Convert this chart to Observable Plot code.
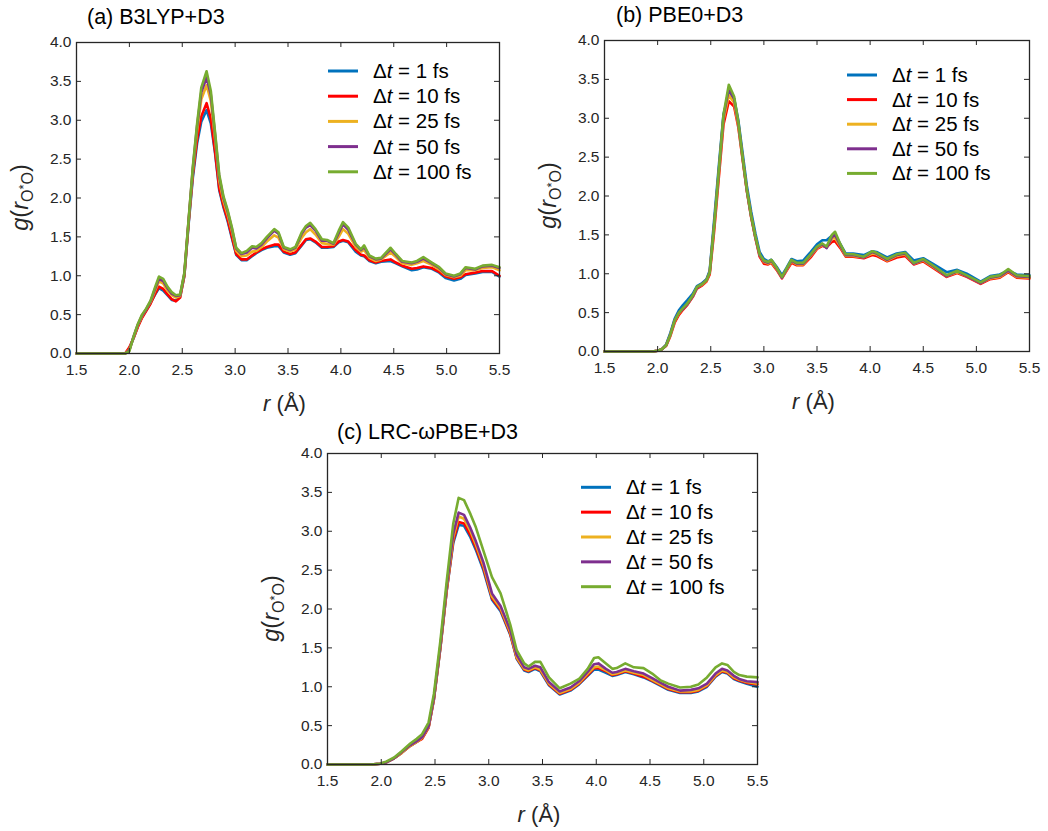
<!DOCTYPE html>
<html>
<head>
<meta charset="utf-8">
<script src="https://cdn.jsdelivr.net/npm/d3@7"></script>
<script src="https://cdn.jsdelivr.net/npm/@observablehq/plot@0.6"></script>
<style>
  html, body { margin: 0; padding: 0; background: #fff; }
  #fig { position: relative; width: 1048px; height: 831px; background: #fff; overflow: hidden; }
  .panel { position: absolute; }
</style>
</head>
<body>
<div id="fig"></div>
<script>
// ---------- shared labels / ticks ----------
const xTicks = [1.5, 2.0, 2.5, 3.0, 3.5, 4.0, 4.5, 5.0, 5.5];
const yTicks = [0, 0.5, 1.0, 1.5, 2.0, 2.5, 3.0, 3.5, 4.0];
const seriesLabels = ["1 fs", "10 fs", "25 fs", "50 fs", "100 fs"];
const seriesColors = ["#0072BD", "#FF0000", "#EDB120", "#7E2F8E", "#77AC30"];
const panelTitles = ["(a) B3LYP+D3", "(b) PBE0+D3", "(c) LRC-\u03C9PBE+D3"];

// ---------- panel (a) B3LYP+D3 ----------
const rA = [1.5, 1.96, 2.0, 2.04, 2.08, 2.12, 2.16, 2.2, 2.24, 2.28,
  2.32, 2.36, 2.4, 2.44, 2.48, 2.52, 2.56, 2.6, 2.64, 2.68,
  2.73, 2.77, 2.81, 2.85, 2.89, 2.93, 2.97, 3.01, 3.06, 3.11,
  3.16, 3.2, 3.25, 3.3, 3.37, 3.41, 3.46, 3.52, 3.57, 3.63,
  3.67, 3.71, 3.76, 3.82, 3.87, 3.93, 3.98, 4.02, 4.07, 4.14,
  4.19, 4.22, 4.27, 4.33, 4.38, 4.47, 4.52, 4.58, 4.67, 4.72,
  4.78, 4.86, 4.93, 4.99, 5.07, 5.13, 5.18, 5.27, 5.34, 5.43,
  5.5];
const gA_1 = [0, 0, 0.06, 0.20, 0.35, 0.47, 0.56, 0.65, 0.75, 0.84,
  0.81, 0.75, 0.69, 0.68, 0.73, 1.00, 1.66, 2.26, 2.70, 2.98,
  3.13, 2.96, 2.58, 2.10, 1.88, 1.70, 1.48, 1.27, 1.20, 1.20,
  1.25, 1.29, 1.33, 1.36, 1.38, 1.38, 1.30, 1.27, 1.29, 1.39,
  1.46, 1.47, 1.43, 1.36, 1.36, 1.37, 1.43, 1.45, 1.43, 1.31,
  1.26, 1.25, 1.19, 1.16, 1.18, 1.19, 1.16, 1.12, 1.07, 1.08,
  1.11, 1.09, 1.04, 0.97, 0.94, 0.96, 1.01, 1.03, 1.05, 1.05,
  0.99];
const gA_10 = [0, 0, 0.08, 0.20, 0.34, 0.46, 0.55, 0.64, 0.76, 0.86,
  0.83, 0.76, 0.70, 0.67, 0.72, 1.00, 1.68, 2.30, 2.75, 3.05,
  3.22, 3.02, 2.60, 2.12, 1.90, 1.72, 1.50, 1.28, 1.21, 1.21,
  1.26, 1.30, 1.34, 1.37, 1.40, 1.40, 1.31, 1.28, 1.30, 1.40,
  1.47, 1.48, 1.44, 1.37, 1.37, 1.38, 1.44, 1.46, 1.44, 1.33,
  1.27, 1.26, 1.20, 1.17, 1.19, 1.21, 1.17, 1.13, 1.09, 1.10,
  1.12, 1.10, 1.05, 0.99, 0.96, 0.98, 1.02, 1.04, 1.06, 1.06,
  1.00];
const gA_25 = [0, 0, 0.05, 0.21, 0.36, 0.48, 0.57, 0.66, 0.80, 0.93,
  0.90, 0.81, 0.75, 0.72, 0.74, 1.02, 1.70, 2.35, 2.86, 3.27,
  3.45, 3.25, 2.76, 2.22, 1.96, 1.78, 1.57, 1.32, 1.25, 1.26,
  1.31, 1.32, 1.37, 1.44, 1.52, 1.49, 1.34, 1.31, 1.34, 1.49,
  1.56, 1.60, 1.53, 1.42, 1.41, 1.40, 1.50, 1.60, 1.54, 1.37,
  1.31, 1.33, 1.23, 1.19, 1.21, 1.30, 1.24, 1.16, 1.14, 1.16,
  1.19, 1.14, 1.08, 1.01, 0.98, 1.00, 1.07, 1.07, 1.10, 1.11,
  1.07];
const gA_50 = [0, 0, 0.04, 0.22, 0.37, 0.49, 0.57, 0.67, 0.82, 0.96,
  0.93, 0.84, 0.77, 0.74, 0.75, 1.03, 1.71, 2.38, 2.92, 3.36,
  3.55, 3.33, 2.82, 2.27, 2.00, 1.82, 1.60, 1.35, 1.28, 1.30,
  1.36, 1.35, 1.40, 1.48, 1.58, 1.54, 1.36, 1.33, 1.36, 1.54,
  1.62, 1.65, 1.58, 1.45, 1.45, 1.41, 1.55, 1.66, 1.59, 1.40,
  1.33, 1.37, 1.25, 1.21, 1.22, 1.34, 1.27, 1.18, 1.16, 1.18,
  1.22, 1.16, 1.10, 1.02, 0.99, 1.02, 1.10, 1.08, 1.12, 1.13,
  1.10];
const gA_100 = [0, 0, 0.03, 0.22, 0.38, 0.50, 0.58, 0.68, 0.84, 0.99,
  0.96, 0.86, 0.79, 0.75, 0.76, 1.04, 1.72, 2.40, 2.95, 3.42,
  3.63, 3.38, 2.85, 2.30, 2.02, 1.84, 1.62, 1.36, 1.29, 1.32,
  1.38, 1.37, 1.42, 1.50, 1.60, 1.56, 1.37, 1.34, 1.37, 1.56,
  1.64, 1.68, 1.60, 1.47, 1.46, 1.42, 1.58, 1.69, 1.62, 1.41,
  1.34, 1.39, 1.26, 1.22, 1.23, 1.36, 1.28, 1.19, 1.17, 1.19,
  1.24, 1.17, 1.11, 1.03, 1.00, 1.03, 1.11, 1.09, 1.13, 1.14,
  1.11];

// ---------- panel (b) PBE0+D3 ----------
const rB = [1.5, 1.95, 2.0, 2.04, 2.08, 2.12, 2.16, 2.2, 2.24, 2.28,
  2.33, 2.37, 2.42, 2.46, 2.49, 2.53, 2.58, 2.62, 2.67, 2.72,
  2.76, 2.8, 2.84, 2.88, 2.92, 2.96, 3.0, 3.04, 3.07, 3.12,
  3.17, 3.21, 3.26, 3.31, 3.37, 3.44, 3.5, 3.55, 3.59, 3.64,
  3.67, 3.72, 3.77, 3.84, 3.94, 4.02, 4.06, 4.16, 4.25, 4.33,
  4.41, 4.5, 4.6, 4.72, 4.82, 4.91, 5.04, 5.13, 5.22, 5.3,
  5.38, 5.5];
const gB_1 = [0, 0, 0.01, 0.03, 0.09, 0.24, 0.42, 0.53, 0.60, 0.66,
  0.74, 0.84, 0.88, 0.93, 1.04, 1.66, 2.45, 3.05, 3.32, 3.25,
  2.97, 2.55, 2.13, 1.80, 1.52, 1.28, 1.19, 1.16, 1.18, 1.09,
  0.98, 1.07, 1.19, 1.16, 1.17, 1.28, 1.38, 1.43, 1.43, 1.49,
  1.50, 1.38, 1.26, 1.26, 1.24, 1.29, 1.28, 1.21, 1.26, 1.28,
  1.17, 1.20, 1.12, 1.02, 1.05, 1.00, 0.90, 0.97, 0.99, 1.04,
  0.99, 0.98];
const gB_10 = [0, 0, 0.01, 0.03, 0.07, 0.20, 0.37, 0.47, 0.54, 0.60,
  0.70, 0.81, 0.85, 0.90, 0.99, 1.52, 2.30, 2.92, 3.22, 3.15,
  2.88, 2.47, 2.06, 1.73, 1.46, 1.22, 1.13, 1.12, 1.14, 1.05,
  0.94, 1.03, 1.14, 1.11, 1.11, 1.21, 1.32, 1.36, 1.34, 1.41,
  1.42, 1.33, 1.22, 1.22, 1.20, 1.24, 1.23, 1.16, 1.21, 1.23,
  1.12, 1.16, 1.07, 0.96, 1.01, 0.96, 0.87, 0.93, 0.95, 1.02,
  0.95, 0.94];
const gB_25 = [0, 0, 0.01, 0.03, 0.08, 0.21, 0.39, 0.49, 0.55, 0.61,
  0.71, 0.82, 0.86, 0.91, 1.01, 1.57, 2.35, 2.98, 3.30, 3.20,
  2.90, 2.48, 2.07, 1.74, 1.47, 1.24, 1.15, 1.13, 1.15, 1.06,
  0.95, 1.04, 1.16, 1.12, 1.12, 1.23, 1.33, 1.37, 1.34, 1.45,
  1.46, 1.35, 1.23, 1.23, 1.21, 1.26, 1.25, 1.17, 1.23, 1.25,
  1.13, 1.17, 1.08, 0.97, 1.02, 0.97, 0.88, 0.94, 0.96, 1.03,
  0.96, 0.95];
const gB_50 = [0, 0, 0.01, 0.03, 0.08, 0.22, 0.40, 0.50, 0.55, 0.61,
  0.71, 0.82, 0.87, 0.92, 1.02, 1.60, 2.38, 3.02, 3.38, 3.25,
  2.93, 2.49, 2.07, 1.74, 1.47, 1.24, 1.16, 1.14, 1.17, 1.07,
  0.95, 1.05, 1.17, 1.13, 1.13, 1.24, 1.34, 1.38, 1.33, 1.47,
  1.50, 1.36, 1.24, 1.24, 1.21, 1.28, 1.26, 1.18, 1.24, 1.26,
  1.13, 1.18, 1.09, 0.97, 1.03, 0.97, 0.88, 0.95, 0.97, 1.04,
  0.97, 0.96];
const gB_100 = [0, 0, 0.01, 0.03, 0.08, 0.22, 0.40, 0.50, 0.56, 0.62,
  0.72, 0.83, 0.87, 0.92, 1.02, 1.60, 2.40, 3.05, 3.43, 3.28,
  2.95, 2.50, 2.08, 1.75, 1.48, 1.25, 1.17, 1.15, 1.18, 1.08,
  0.96, 1.06, 1.18, 1.14, 1.14, 1.25, 1.35, 1.39, 1.35, 1.50,
  1.54, 1.38, 1.25, 1.25, 1.22, 1.29, 1.27, 1.19, 1.25, 1.27,
  1.14, 1.19, 1.10, 0.98, 1.04, 0.98, 0.89, 0.96, 0.98, 1.06,
  0.98, 0.97];

// ---------- panel (c) LRC-wPBE+D3 ----------
const rC = [1.5, 1.9, 1.99, 2.05, 2.12, 2.19, 2.27, 2.33, 2.38, 2.44,
  2.49, 2.55, 2.61, 2.67, 2.72, 2.77, 2.83, 2.88, 2.95, 3.03,
  3.11, 3.2, 3.26, 3.33, 3.37, 3.43, 3.48, 3.56, 3.66, 3.76,
  3.84, 3.92, 3.98, 4.02, 4.09, 4.15, 4.19, 4.27, 4.35, 4.44,
  4.52, 4.6, 4.67, 4.78, 4.88, 4.95, 5.03, 5.11, 5.17, 5.22,
  5.28, 5.33, 5.4, 5.5];
const gC_1 = [0, 0, 0.01, 0.03, 0.08, 0.15, 0.24, 0.29, 0.34, 0.48,
  0.84, 1.50, 2.25, 2.85, 3.08, 3.07, 2.92, 2.76, 2.50, 2.12,
  1.97, 1.67, 1.36, 1.21, 1.19, 1.23, 1.20, 1.02, 0.90, 0.95,
  1.03, 1.14, 1.22, 1.22, 1.18, 1.14, 1.15, 1.19, 1.16, 1.12,
  1.07, 1.01, 0.96, 0.92, 0.92, 0.94, 1.00, 1.13, 1.19, 1.17,
  1.10, 1.07, 1.04, 1.00];
const gC_10 = [0, 0, 0.01, 0.03, 0.08, 0.15, 0.24, 0.29, 0.33, 0.47,
  0.84, 1.50, 2.25, 2.88, 3.12, 3.10, 2.95, 2.79, 2.53, 2.14,
  1.99, 1.68, 1.37, 1.22, 1.20, 1.24, 1.21, 1.03, 0.91, 0.96,
  1.04, 1.15, 1.24, 1.24, 1.20, 1.15, 1.16, 1.20, 1.17, 1.13,
  1.08, 1.02, 0.97, 0.93, 0.93, 0.95, 1.01, 1.14, 1.20, 1.18,
  1.11, 1.08, 1.05, 1.03];
const gC_25 = [0, 0, 0.01, 0.03, 0.08, 0.15, 0.24, 0.29, 0.34, 0.48,
  0.85, 1.51, 2.27, 2.92, 3.19, 3.16, 3.00, 2.83, 2.56, 2.16,
  2.01, 1.70, 1.38, 1.23, 1.21, 1.25, 1.22, 1.04, 0.92, 0.97,
  1.05, 1.17, 1.25, 1.26, 1.21, 1.16, 1.17, 1.21, 1.18, 1.15,
  1.09, 1.03, 0.98, 0.94, 0.94, 0.96, 1.02, 1.15, 1.21, 1.19,
  1.12, 1.09, 1.06, 1.04];
const gC_50 = [0, 0, 0.01, 0.03, 0.08, 0.16, 0.25, 0.30, 0.35, 0.49,
  0.86, 1.53, 2.30, 2.97, 3.24, 3.21, 3.04, 2.87, 2.60, 2.20,
  2.04, 1.73, 1.41, 1.25, 1.23, 1.27, 1.25, 1.06, 0.94, 0.99,
  1.07, 1.19, 1.29, 1.30, 1.23, 1.18, 1.19, 1.23, 1.20, 1.17,
  1.11, 1.05, 1.00, 0.95, 0.96, 0.98, 1.04, 1.17, 1.23, 1.21,
  1.14, 1.10, 1.07, 1.06];
const gC_100 = [0, 0, 0.01, 0.04, 0.09, 0.17, 0.27, 0.33, 0.39, 0.54,
  0.91, 1.59, 2.37, 3.10, 3.43, 3.40, 3.22, 3.05, 2.75, 2.41,
  2.20, 1.80, 1.47, 1.30, 1.26, 1.32, 1.32, 1.12, 0.98, 1.04,
  1.10, 1.23, 1.37, 1.38, 1.30, 1.23, 1.24, 1.30, 1.25, 1.24,
  1.17, 1.08, 1.04, 0.99, 1.00, 1.03, 1.12, 1.25, 1.30, 1.28,
  1.19, 1.15, 1.13, 1.12];

// ---------- drawing ----------
const FONT = "'Liberation Sans', Arial, Helvetica, sans-serif";
const INK = "#262626";
const fmt = d3.format(".1f");

const panels = [
  { title: panelTitles[0], r: rA, series: [gA_1, gA_10, gA_25, gA_50, gA_100],
    left: 0, top: 0, width: 530, height: 425, mL: 76, mR: 31, mT: 42, mB: 72,
    titleX: 87, titleY: 24, legLineX: 328, legTextX: 373, legY0: 71, legStep: 25.2 },
  { title: panelTitles[1], r: rB, series: [gB_1, gB_10, gB_25, gB_50, gB_100],
    left: 520, top: 0, width: 528, height: 425, mL: 84, mR: 19, mT: 40, mB: 74,
    titleX: 96, titleY: 22, legLineX: 327, legTextX: 372, legY0: 75, legStep: 24.6 },
  { title: panelTitles[2], r: rC, series: [gC_1, gC_10, gC_25, gC_50, gC_100],
    left: 260, top: 410, width: 520, height: 421, mL: 67, mR: 23, mT: 43, mB: 67,
    titleX: 77, titleY: 29, legLineX: 321, legTextX: 366, legY0: 77.3, legStep: 24.85 }
];

const fig = document.getElementById("fig");

for (const p of panels) {
  const fw = p.width - p.mL - p.mR;
  const fh = p.height - p.mT - p.mB;
  const lineMarks = p.series.map((vals, i) =>
    Plot.line(p.r.map((x, j) => ({ r: x, g: vals[j] })), {
      x: "r", y: "g", stroke: seriesColors[i], strokeWidth: 2.6,
      strokeLinejoin: "round", strokeLinecap: "round"
    })
  );

  const chart = Plot.plot({
    width: p.width,
    height: p.height,
    marginLeft: p.mL, marginRight: p.mR, marginTop: p.mT, marginBottom: p.mB,
    style: { fontFamily: FONT, fontSize: "15.5px", color: INK, background: "transparent", overflow: "visible" },
    x: { domain: [1.5, 5.5] },
    y: { domain: [0, 4] },
    marks: [
      Plot.axisX({ ticks: xTicks, tickSize: 0, tickPadding: 10, tickFormat: fmt, label: null }),
      Plot.axisY({ ticks: yTicks, tickSize: 0, tickPadding: 5, tickFormat: fmt, label: null }),
      ...lineMarks,
      Plot.tickX(xTicks, { x: d => d, insetTop: fh - 5, stroke: INK, strokeWidth: 1 }),
      Plot.tickX(xTicks, { x: d => d, insetBottom: fh - 5, stroke: INK, strokeWidth: 1 }),
      Plot.tickY(yTicks, { y: d => d, insetRight: fw - 5, stroke: INK, strokeWidth: 1 }),
      Plot.tickY(yTicks, { y: d => d, insetLeft: fw - 5, stroke: INK, strokeWidth: 1 }),
      Plot.frame({ stroke: INK, strokeWidth: 1.3 })
    ]
  });

  const svg = d3.select(chart);

  // title
  svg.append("text")
    .attr("x", p.titleX).attr("y", p.titleY)
    .attr("text-anchor", "start")
    .attr("font-family", FONT).attr("font-size", 21.5).attr("fill", "#000")
    .text(p.title);

  // x label: r (Å)
  const xl = svg.append("text")
    .attr("x", p.mL + fw / 2 - 3).attr("y", p.mT + fh + 58)
    .attr("text-anchor", "middle")
    .attr("font-family", FONT).attr("font-size", 22).attr("fill", INK);
  xl.append("tspan").attr("font-style", "italic").text("r");
  xl.append("tspan").text(" (\u00C5)");

  // y label: g(r_O*O)
  const cx = p.mL - 54, cy = p.mT + fh / 2;
  const yl = svg.append("text")
    .attr("transform", `translate(${cx + 6},${cy}) rotate(-90)`)
    .attr("text-anchor", "middle")
    .attr("font-family", FONT).attr("font-size", 23.5).attr("fill", INK);
  yl.append("tspan").attr("font-style", "italic").text("g");
  yl.append("tspan").text("(");
  yl.append("tspan").attr("font-style", "italic").text("r");
  yl.append("tspan").attr("font-size", 16).attr("dy", 5).text("O");
  yl.append("tspan").attr("font-size", 13).attr("dy", -5).text("*");
  yl.append("tspan").attr("font-size", 16).attr("dy", 5).text("O");
  yl.append("tspan").attr("dy", -5).text(")");

  // legend
  seriesLabels.forEach((lab, i) => {
    const y = p.legY0 + i * p.legStep;
    svg.append("line")
      .attr("x1", p.legLineX).attr("x2", p.legLineX + 30)
      .attr("y1", y).attr("y2", y)
      .attr("stroke", seriesColors[i]).attr("stroke-width", 3);
    const t = svg.append("text")
      .attr("x", p.legTextX).attr("y", y + 7)
      .attr("text-anchor", "start")
      .attr("font-family", FONT).attr("font-size", 20.5).attr("fill", "#000");
    t.append("tspan").text("\u0394");
    t.append("tspan").attr("font-style", "italic").text("t");
    t.append("tspan").text(" = " + lab);
  });

  const holder = document.createElement("div");
  holder.className = "panel";
  holder.style.left = p.left + "px";
  holder.style.top = p.top + "px";
  holder.appendChild(chart);
  fig.appendChild(holder);
}
</script>
</body>
</html>
